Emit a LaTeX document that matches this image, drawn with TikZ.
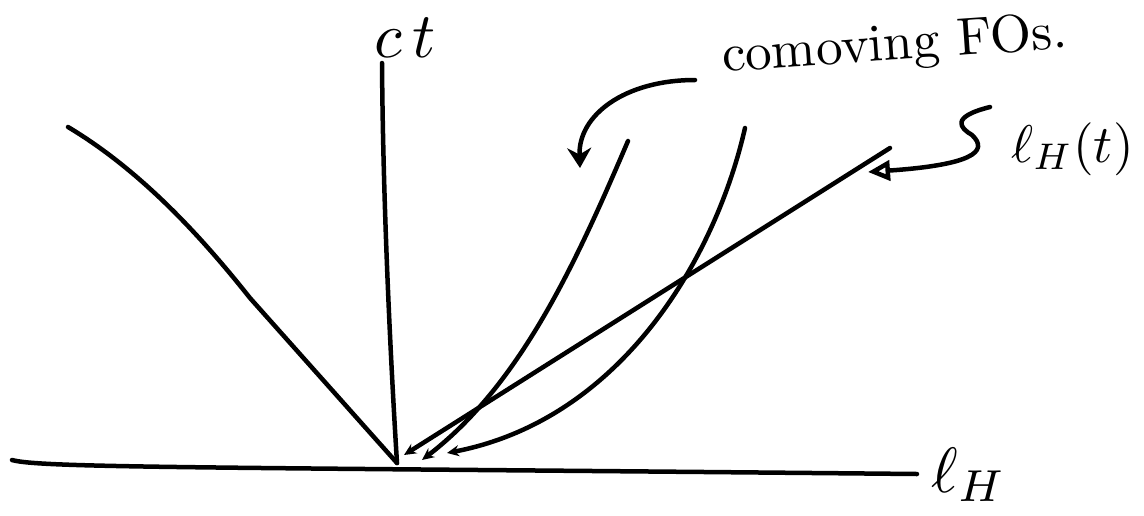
\documentclass[tikz,border=0pt]{standalone}
\usepackage{amsmath,amssymb}
\usepackage{tikz}
\usetikzlibrary{positioning, arrows.meta}
\tikzset{
  pen/.style={line width=4.5pt, line cap=round, line join=round},
  tag/.style={inner sep=0pt, font=\normalsize, scale=5.3},
  bigtag/.style={inner sep=0pt, font=\normalsize, scale=6.4},
  tip/.style={-{Stealth[length=12pt, width=11pt]}},
  >=Stealth,
}

\begin{document}
\begin{tikzpicture}[x=1pt, y=-1pt]
    \useasboundingbox (0,0) rectangle (1144,515);
    \coordinate (axL) at (12,460);
    \coordinate (axR) at (917,474);
    \coordinate (O) at (397,463);
    \coordinate (ctT) at (382,63);
    \coordinate (lc) at (68,127);
    \coordinate (lhT) at (890,148);
    \coordinate (lhB) at (404,455);
    \coordinate (foA) at (628,141);
    \coordinate (foAB) at (422,460);
    \coordinate (foB) at (745,128);
    \coordinate (foBB) at (447,453);
    \coordinate (cmA) at (695,80);
    \coordinate (cmB) at (580,168);
    \coordinate (lpA) at (990,107);
    \coordinate (lpB) at (868,172);
    \node[bigtag] (ct) at (405,38) {$c\,t$};
    \node[bigtag, anchor=base west] (lH) at (930,492) {$\ell_H$};
    \node[tag, anchor=base west, rotate=4] (com) at (722,72) {comoving FOs.};
    \node[tag, anchor=base west] (lHt) at (1010,162) {$\ell_H(t)$};
    % axes
    \draw[pen] (axL) .. controls (40,468) and (200,467) .. (axR);
    \draw[pen] (ctT) .. controls (383,200) and (390,350) .. (O);
    % world lines
    \draw[pen] (lc) .. controls (140,170) and (200,235) .. (250,298) -- (O);
    \draw[pen, tip] (lhT) -- (lhB);
    \draw[pen, tip] (foA) .. controls (575,265) and (520,385) .. (foAB);
    \draw[pen, tip] (foB) .. controls (715,260) and (620,420) .. (foBB);
    % pointers
    \draw[pen, -{Stealth[length=20pt, width=24pt]}] (cmA) .. controls (625,80) and (578,115) .. (cmB);
    \draw[pen, -{Triangle[open, length=22pt, width=20pt]}] (lpA) .. controls (950,117) and (960,128) .. (972,135)
        .. controls (990,152) and (970,165) .. (lpB);
\end{tikzpicture}
\end{document}
